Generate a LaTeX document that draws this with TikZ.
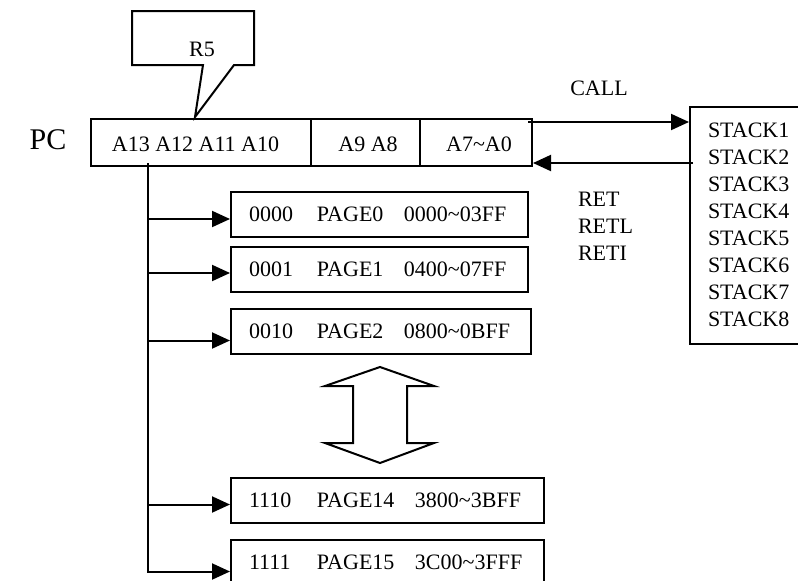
\documentclass[tikz,border=0pt]{standalone}
\usepackage{fontspec}
\setmainfont{Liberation Serif}
\usetikzlibrary{arrows.meta}
\newcommand{\pagerow}[4]{\makebox[68pt][l]{#1}\makebox[#4][l]{#2}#3}
\tikzset{
  box/.style={draw,line width=2pt,inner sep=0pt},
  pagebox/.style={draw,line width=2pt,inner xsep=18pt,inner ysep=0pt,minimum height=45pt,anchor=north west,align=left},
  tri/.style={-{Triangle[length=18pt,width=16pt]}}
}
\begin{document}
\begin{tikzpicture}[x=1pt,y=-1pt,font=\fontsize{22}{27}\selectfont,line width=2pt]
    \useasboundingbox (0,0) rectangle (798,581);
    \clip (0,0) rectangle (798,581);

    % program counter
    \node (pclabel) at (48,140) {\fontsize{30}{36}\selectfont PC};
    \node[box,minimum width=441pt,minimum height=47pt] (pc) at (311.5,142.5) {};
    \draw ([xshift=221pt]pc.north west) -- ([xshift=221pt]pc.south west);
    \draw ([xshift=330pt]pc.north west) -- ([xshift=330pt]pc.south west);
    \node (hibits) at (195.5,144) {A13 A12 A11 A10};
    \node (midbits) at (368,144) {A9 A8};
    \node (lobits) at (479,144) {A7\textasciitilde A0};

    % R5 callout
    \draw (132,11) -- (254,11) -- (254,65) -- (234,65) -- (195,117) -- (203,65) -- (132,65) -- cycle;
    \node (r5) at (202,49) {R5};

    % pages
    \node[pagebox,text width=261pt] (page0) at (230,191) {\pagerow{0000}{PAGE0}{0000\textasciitilde 03FF}{87pt}};
    \node[pagebox,text width=261pt] (page1) at (230,246) {\pagerow{0001}{PAGE1}{0400\textasciitilde 07FF}{87pt}};
    \node[pagebox,text width=264pt] (page2) at (230,308) {\pagerow{0010}{PAGE2}{0800\textasciitilde 0BFF}{87pt}};
    \node[pagebox,text width=277pt] (page14) at (230,477) {\pagerow{1110}{PAGE14}{3800\textasciitilde 3BFF}{98pt}};
    \node[pagebox,text width=277pt] (page15) at (230,539) {\pagerow{1111}{PAGE15}{3C00\textasciitilde 3FFF}{98pt}};

    \coordinate (trunk) at (148,163);
    \draw[tri] (trunk) |- ([yshift=-4.5pt]page0.west);
    \draw[tri] (trunk) |- ([yshift=-3.5pt]page1.west);
    \draw[tri] (trunk) |- ([yshift=-9pt]page2.west);
    \draw[tri] (trunk) |- ([yshift=-4pt]page14.west);
    \draw[tri] (trunk) |- ([yshift=-9pt]page15.west);

    \draw (380,367) -- (434,386) -- (407,386) -- (407,443) -- (434,443) -- (380,463)
        -- (325,443) -- (353,443) -- (353,386) -- (325,386) -- cycle;

    % stack
    \node[box,anchor=north west,minimum width=130pt,minimum height=237pt] (stack) at (689,106) {};
    \node[anchor=west,align=left,inner sep=0pt] (stacklist) at (707,225)
        {STACK1\\STACK2\\STACK3\\STACK4\\STACK5\\STACK6\\STACK7\\STACK8};

    \node (call) at (599,88) {CALL};
    \coordinate (callfrom) at (528,122);
    \draw[tri] (callfrom) -- (callfrom -| stack.west);
    \coordinate (retfrom) at (693,163);
    \draw[tri] (retfrom) -- (retfrom -| pc.east);
    \node[anchor=west,align=left,inner sep=0pt] (ret) at (577,226) {RET\\RETL\\RETI};
\end{tikzpicture}
\end{document}
